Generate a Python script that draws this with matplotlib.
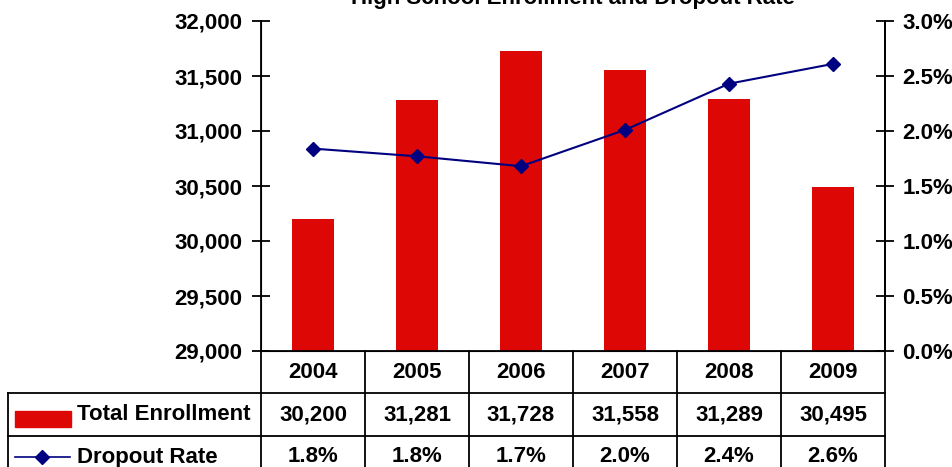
import matplotlib.pyplot as plt
from matplotlib.lines import Line2D
from matplotlib.patches import Rectangle

plt.rcParams['font.family'] = ['Liberation Sans', 'DejaVu Sans']
plt.rcParams['font.weight'] = 'bold'

# data
years = ['2004', '2005', '2006', '2007', '2008', '2009']
enrollment = [30200, 31281, 31728, 31558, 31289, 30495]
dropout_rate = [1.84, 1.77, 1.68, 2.01, 2.43, 2.61]
left_ticks = [29000, 29500, 30000, 30500, 31000, 31500, 32000]
right_ticks = [0.0, 0.5, 1.0, 1.5, 2.0, 2.5, 3.0]
title = "High School Enrollment and Dropout Rate"
series_names = ["Total Enrollment", "Dropout Rate"]

W, H = 953, 467
bar_color = '#DD0806'
line_color = '#000080'
fs = 16

fig = plt.figure(figsize=(W / 100, H / 100), dpi=100)

# plot area in pixels
px_left, px_right, px_top, px_bottom = 261, 885, 21, 351
ax = fig.add_axes([px_left / W, (H - px_bottom) / H,
                   (px_right - px_left) / W, (px_bottom - px_top) / H])
x = list(range(len(years)))
ax.bar(x, enrollment, width=0.41, color=bar_color, zorder=2)
ax.set_xlim(-0.5, len(years) - 0.5)
ax.set_ylim(left_ticks[0], left_ticks[-1])
ax.set_yticks(left_ticks)
ax.set_yticklabels([f"{v:,}" for v in left_ticks])
ax.set_xticks([])
ax.spines['top'].set_visible(False)
for s in ['left', 'right', 'bottom']:
    ax.spines[s].set_linewidth(1.3)
ax.tick_params(axis='y', direction='inout', length=13, width=1.3,
               labelsize=fs, pad=7)

ax2 = ax.twinx()
ax2.plot(x, dropout_rate, color=line_color, lw=1.5, marker='D',
         markersize=7.5, zorder=3)
ax2.set_ylim(right_ticks[0], right_ticks[-1])
ax2.set_yticks(right_ticks)
ax2.set_yticklabels([f"{v:.1f}%" for v in right_ticks])
ax2.spines['top'].set_visible(False)
ax2.spines['right'].set_linewidth(1.3)
ax2.tick_params(axis='y', direction='inout', length=13, width=1.3,
                labelsize=fs, pad=6)

# title (mostly above the image top, as in the original)
fig.text((px_left + px_right) / 2 / W, (H - 4) / H, title,
         ha='center', va='baseline', fontsize=fs, fontweight='bold')

# data table drawn in pixel coordinates on an overlay axes
tab = fig.add_axes([0, 0, 1, 1], facecolor='none')
tab.set_xlim(0, W)
tab.set_ylim(H, 0)
tab.axis('off')

ncol = len(years)
colw = (px_right - px_left) / ncol
edges = [px_left + i * colw for i in range(ncol + 1)]
row_y = [px_bottom, 393, 436, H + 30]
tab_left = 8
lw = 1.3

for e in edges:
    tab.add_line(Line2D([e, e], [row_y[0], row_y[-1]], color='black', lw=lw))
tab.add_line(Line2D([tab_left, tab_left], [row_y[1], row_y[-1]], color='black', lw=lw))
for yy in row_y[1:3]:
    tab.add_line(Line2D([tab_left, px_right], [yy, yy], color='black', lw=lw))

centers = [(edges[i] + edges[i + 1]) / 2 for i in range(ncol)]
row_mid = [(row_y[0] + row_y[1]) / 2, (row_y[1] + row_y[2]) / 2, row_y[2] + 21]
for c, yr, en, dr in zip(centers, years, enrollment, dropout_rate):
    tab.text(c, row_mid[0], yr, ha='center', va='center', fontsize=fs)
    tab.text(c, row_mid[1], f"{en:,}", ha='center', va='center', fontsize=fs)
    tab.text(c, row_mid[2], f"{dr:.1f}%", ha='center', va='center', fontsize=fs)

# legend keys inside the table
tab.add_patch(Rectangle((15, 411), 56, 16, color=bar_color))
tab.text(77, row_mid[1], series_names[0], ha='left', va='center', fontsize=fs)
tab.add_line(Line2D([15, 70], [row_mid[2], row_mid[2]], color=line_color, lw=1.2))
tab.plot([42], [row_mid[2]], marker='D', color=line_color, markersize=7)
tab.text(77, row_mid[2], series_names[1], ha='left', va='center', fontsize=fs)

fig.savefig('out.png', dpi=100)
